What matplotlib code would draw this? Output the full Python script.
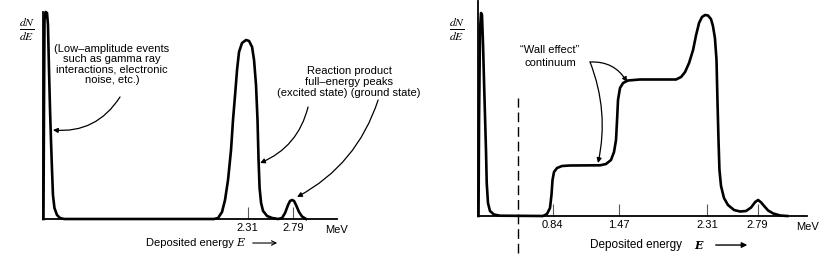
import numpy as np
import matplotlib
matplotlib.use('Agg')
import matplotlib.pyplot as plt

plt.rcParams['font.family'] = ['Liberation Sans', 'DejaVu Sans']
plt.rcParams['font.size'] = 8
plt.rcParams['mathtext.fontset'] = 'stix'

# left panel: ideal spectrum (energy in MeV, dN/dE arbitrary units)
left_energy = [0.135, 0.141, 0.146, 0.157, 0.173, 0.183, 0.194, 0.205, 0.215, 0.226,
               0.236, 0.252, 0.279, 0.311, 0.354,
               1.951, 1.994, 2.036, 2.068, 2.100, 2.132, 2.153, 2.175, 2.196, 2.217,
               2.249, 2.292, 2.324, 2.356, 2.377, 2.398, 2.414, 2.425, 2.436, 2.452,
               2.473, 2.516, 2.569, 2.633,
               2.675, 2.707, 2.739, 2.760, 2.782, 2.803, 2.824, 2.856, 2.888, 2.931]
left_counts = [0, 119, 199, 207, 206, 194, 149, 109, 79, 49,
               24, 11, 4, 1, 0,
               0, 1, 7, 19, 39, 69, 99, 124, 149, 167,
               176, 179, 178, 172, 159, 134, 99, 59, 31, 16,
               8, 3, 1, 0,
               1, 6, 14, 18, 19, 18, 14, 7, 2.5, 0]

# right panel: spectrum with wall effect continuum
right_energy = [0.135, 0.140, 0.149, 0.159, 0.168, 0.178, 0.187, 0.197, 0.206, 0.213,
                0.225, 0.244, 0.282, 0.339, 0.748, 0.786, 0.815, 0.829, 0.839, 0.853,
                0.882, 0.929, 1.005, 1.291, 1.348, 1.395, 1.424, 1.443, 1.453, 1.462,
                1.481, 1.510, 1.557, 1.671, 2.014, 2.062, 2.100, 2.138, 2.176, 2.205,
                2.233, 2.261, 2.290, 2.318, 2.346, 2.365, 2.384, 2.399, 2.408, 2.418,
                2.427, 2.442, 2.470, 2.508, 2.566, 2.623, 2.680, 2.728, 2.767, 2.795,
                2.824, 2.852, 2.890, 2.939, 3.005, 3.072]
right_counts = [0, 96, 186, 203, 201, 171, 136, 99, 66, 33,
                13, 5, 1.5, 0.3, 0, 2, 8, 21, 36, 44,
                48, 50, 50.5, 50.7, 52, 56, 64, 76, 96, 116,
                128, 133, 135.5, 136.5, 136.5, 139, 144, 153, 166, 181,
                193, 199, 201, 200.5, 197, 190, 178, 156, 116, 76,
                46, 30, 18, 11, 6, 4.5, 5, 8.5, 14, 16,
                13.5, 10, 5.5, 2.5, 0.5, 0]

left_ticks = [2.31, 2.79]
right_ticks = [0.84, 1.47, 2.31, 2.79]
threshold = 0.508

fig = plt.figure(figsize=(8.3, 2.54), dpi=100)
ax1 = fig.add_axes([0.0518, 0.1378, 0.3542, 0.8150])
ax2 = fig.add_axes([0.5759, 0.1496, 0.3964, 0.8465])

for ax, en, cn, ticks, top in [(ax1, left_energy, left_counts, left_ticks, 207),
                               (ax2, right_energy, right_counts, right_ticks, 215)]:
    ax.plot(en, cn, color='black', lw=1.9, solid_joinstyle='round', clip_on=False)
    ax.set_xlim(0.13, 3.26)
    ax.set_ylim(0, top)
    for s in ['top', 'right']:
        ax.spines[s].set_visible(False)
    for s in ['left', 'bottom']:
        ax.spines[s].set_linewidth(1.3)
    ax.set_yticks([])
    ax.set_xticks(ticks)
    ax.set_xticklabels([f'{t:.2f}' for t in ticks])
    ax.tick_params(axis='x', direction='in', length=9, width=0.8, color='0.35', pad=3,
                   labelsize=8)
    ax.text(1.0, -0.03, 'MeV', transform=ax.transAxes, ha='center', va='top', fontsize=8)

# axis titles
frac = r'$\mathbf{\frac{\mathit{dN}}{\mathit{dE}}}$'
fig.text(0.0325, 0.885, frac, ha='center', va='center', fontsize=12)
fig.text(0.5506, 0.885, frac, ha='center', va='center', fontsize=12)

# energy labels with arrow
ax1.text(0.350, -0.116, 'Deposited energy', transform=ax1.transAxes, ha='left', va='center')
ax1.text(0.670, -0.116, 'E', transform=ax1.transAxes, ha='center', va='center',
         family='DejaVu Serif', style='italic')
ax1.annotate('', xy=(0.806, -0.116), xytext=(0.704, -0.116), xycoords='axes fraction',
             arrowprops=dict(arrowstyle='->', lw=0.8, color='black'))
ax2.text(0.340, -0.135, 'Deposited energy', transform=ax2.transAxes, ha='left', va='center',
         fontsize=8.5)
ax2.text(0.669, -0.135, 'E', transform=ax2.transAxes, ha='center', va='center',
         family='DejaVu Serif', style='italic', weight='bold')
ax2.annotate('', xy=(0.827, -0.135), xytext=(0.714, -0.135), xycoords='axes fraction',
             arrowprops=dict(arrowstyle='-|>', lw=1.0, color='black', mutation_scale=8))

# left annotations
arrow = dict(arrowstyle='-|>', lw=0.9, color='black', mutation_scale=7, shrinkA=0, shrinkB=0)
ax1.text(0.865, 175, '(Low\u2013amplitude events\nsuch as gamma ray\ninteractions, electronic\nnoise, etc.)',
         ha='center', va='top', linespacing=1.05)
ax1.annotate('', xy=(0.236, 89), xytext=(0.950, 122),
             arrowprops=dict(arrow, connectionstyle='arc3,rad=-0.3'))
ax1.text(3.389, 153, 'Reaction product\nfull\u2013energy peaks\n(excited state) (ground state)',
         ha='center', va='top', linespacing=1.1, clip_on=False)
ax1.annotate('', xy=(2.441, 56), xytext=(2.952, 112),
             arrowprops=dict(arrow, connectionstyle='arc3,rad=-0.25'), annotation_clip=False)
ax1.annotate('', xy=(2.835, 22), xytext=(3.698, 119),
             arrowprops=dict(arrow, connectionstyle='arc3,rad=-0.2'), annotation_clip=False)

# right annotations
ax2.plot([threshold, threshold], [-37, 118], color='black', lw=1.0,
         linestyle=(0, (7, 3.5)), clip_on=False)
ax2.text(0.815, 171, '\u201cWall effect\u201d\ncontinuum', ha='center', va='top', linespacing=1.35)
ax2.annotate('', xy=(1.548, 134), xytext=(1.196, 154),
             arrowprops=dict(arrow, connectionstyle='arc3,rad=-0.3'))
ax2.annotate('', xy=(1.272, 53), xytext=(1.196, 154),
             arrowprops=dict(arrow, connectionstyle='arc3,rad=-0.15'))

fig.savefig('out.png', dpi=100)
plt.close(fig)
